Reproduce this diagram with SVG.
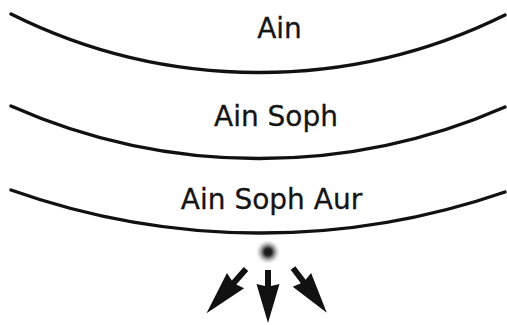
<svg xmlns="http://www.w3.org/2000/svg" width="507" height="325" viewBox="0 0 507 325">
  <style>
    .arc { fill: none; stroke: #111; stroke-width: 3.4; stroke-linecap: round; }
    .label { font-family: "DejaVu Sans", Verdana, sans-serif; font-size: 28px; fill: #151515; stroke: #151515; stroke-width: 0.3; text-anchor: middle; }
    .arrow { fill: #111; }
  </style>
  <defs>
    <!-- soft glowing point of light -->
    <radialGradient id="glow" cx="0.5" cy="0.5" r="0.5">
      <stop offset="0" stop-color="#111"/>
      <stop offset="0.3" stop-color="#2a2a2a"/>
      <stop offset="0.65" stop-color="#999" stop-opacity="0.6"/>
      <stop offset="1" stop-color="#fff" stop-opacity="0"/>
    </radialGradient>
    <!-- dart-shaped arrow pointing down, tail at origin -->
    <path id="dart" d="M -3 0 L 3 0 L 3 16 L 11.5 14 L 0 53 L -11.5 14 L -3 16 Z"/>
  </defs>

  <rect width="507" height="325" fill="#fff"/>

  <g id="ain">
    <path class="arc" d="M 11 14 A 555 555 0 0 0 505 15"/>
    <text class="label" x="279.5" y="38">Ain</text>
  </g>

  <g id="ain-soph">
    <path class="arc" d="M 11 106 A 612 612 0 0 0 505 107"/>
    <text class="label" x="276" y="125.5">Ain Soph</text>
  </g>

  <g id="ain-soph-aur">
    <path class="arc" d="M 11 190 A 747 747 0 0 0 505 192"/>
    <text class="label" x="271.5" y="209">Ain Soph Aur</text>
  </g>

  <g id="light">
    <circle cx="268" cy="252" r="13" fill="url(#glow)"/>
  </g>

  <g id="connectors" class="arrow">
    <use href="#dart" transform="translate(246 269) rotate(41.7) scale(1 1.12)"/>
    <use href="#dart" transform="translate(268 270)"/>
    <use href="#dart" transform="translate(293 268) rotate(-37) scale(1 1.06)"/>
  </g>
</svg>
